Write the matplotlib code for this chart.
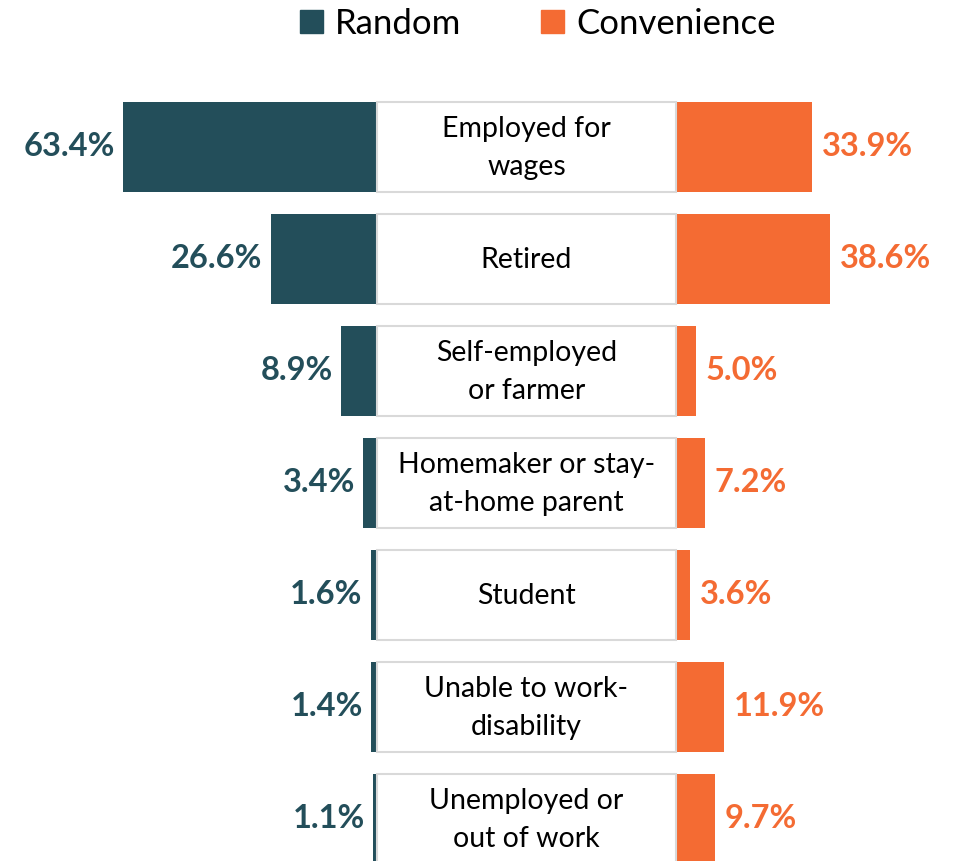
import numpy as np
from matplotlib import pyplot as plt
from matplotlib.patches import Patch

plt.rcParams['font.family'] = ['Lato', 'DejaVu Sans']

categories = ['Employed for\nwages', 'Retired', 'Self-employed\nor farmer',
              'Homemaker or stay-\nat-home parent', 'Student',
              'Unable to work-\ndisability', 'Unemployed or\nout of work']
random_pct = [63.4, 26.6, 8.9, 3.4, 1.6, 1.4, 1.1]
convenience_pct = [33.9, 38.6, 5.0, 7.2, 3.6, 11.9, 9.7]

teal = '#234E5A'
orange = '#F46B33'
box_w = 74.75  # width of the label column, in percent units

fig = plt.figure(figsize=(9.57, 8.61), dpi=100)
ax = fig.add_axes([0, 0, 1, 1])
ax.set_xlim(-94.25, 145.0)
ax.set_ylim(6.375, -1.3125)
ax.axis('off')

y = np.arange(len(categories))
h = 0.804

ax.barh(y, -np.array(random_pct), left=0, height=h, color=teal)
ax.barh(y, convenience_pct, left=box_w, height=h, color=orange)
ax.barh(y, box_w, left=0, height=h, color='white', edgecolor='#D9D9D9', linewidth=1.5)

for i, cat in enumerate(categories):
    ax.text(box_w / 2, i + 0.01, cat, ha='center', va='center', fontsize=20.5,
            color='black', linespacing=1.6)
    ax.text(-random_pct[i] - 2, i, f'{random_pct[i]:.1f}%', ha='right', va='center',
            fontsize=23.5, fontweight='bold', color=teal)
    ax.text(box_w + convenience_pct[i] + 2.5, i, f'{convenience_pct[i]:.1f}%', ha='left',
            va='center', fontsize=23.5, fontweight='bold', color=orange)

handles = [Patch(color=teal, label='Random'), Patch(color=orange, label='Convenience')]
fig.legend(handles=handles, loc='upper center', bbox_to_anchor=(0.562, 1.027), ncol=2,
           frameon=False, fontsize=25, handlelength=0.65, handleheight=0.65,
           handletextpad=0.35, columnspacing=2.3)

fig.savefig('out.png', dpi=100)
